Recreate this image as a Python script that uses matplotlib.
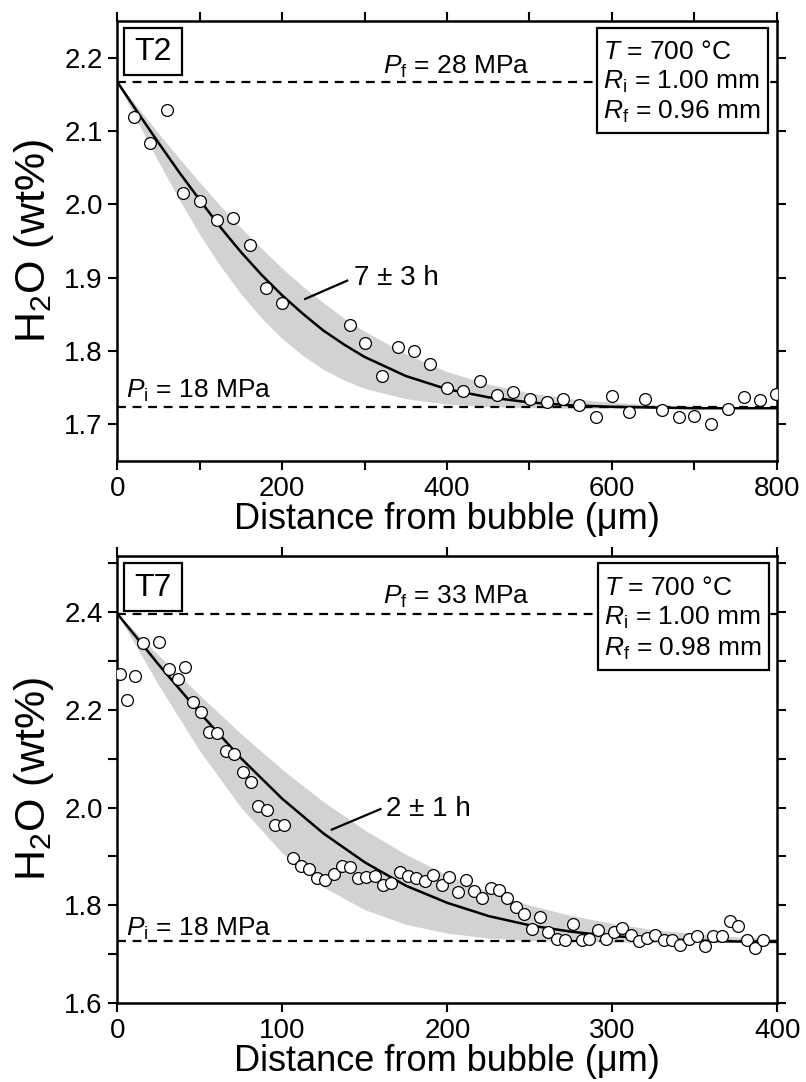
import matplotlib
matplotlib.use('Agg')
import matplotlib.pyplot as plt
from matplotlib.patches import Rectangle

plt.rcParams['font.family'] = ['Liberation Sans', 'DejaVu Sans']
plt.rcParams['mathtext.fontset'] = 'custom'
plt.rcParams['mathtext.rm'] = 'Liberation Sans'
plt.rcParams['mathtext.it'] = 'Liberation Sans:italic'

# --- T2 panel ---
t2_x = [19.8, 39.7, 60, 80, 100.4, 120.7, 140.9, 161, 180, 200, 282.5, 300.6, 321, 340.4,
        360.2, 380, 400.6, 420, 440.3, 460.5, 480.7, 501, 521, 540.6, 560.8, 580.7, 600.5,
        620.8, 640.6, 660.8, 681, 700.4, 720.7, 741, 761, 780, 799.6]
t2_y = [2.119, 2.083, 2.128, 2.016, 2.004, 1.979, 1.982, 1.945, 1.886, 1.865, 1.836, 1.811,
        1.766, 1.806, 1.800, 1.782, 1.750, 1.746, 1.759, 1.740, 1.744, 1.734, 1.730, 1.735,
        1.727, 1.710, 1.738, 1.717, 1.734, 1.719, 1.710, 1.711, 1.701, 1.721, 1.737, 1.733,
        1.741]
t2_fit_x = [0, 25, 50, 75, 100, 125, 150, 175, 200, 225, 250, 275, 300, 350, 400, 450, 500,
            550, 600, 650, 700, 800]
t2_fit = [2.167, 2.125, 2.084, 2.044, 2.006, 1.969, 1.935, 1.904, 1.876, 1.851, 1.828, 1.809,
          1.792, 1.766, 1.748, 1.737, 1.730, 1.726, 1.724, 1.723, 1.722, 1.722]
t2_hi = [2.167, 2.132, 2.097, 2.063, 2.030, 1.998, 1.968, 1.940, 1.913, 1.888, 1.866, 1.845,
         1.827, 1.796, 1.772, 1.755, 1.743, 1.735, 1.730, 1.7265, 1.7245, 1.7227]
t2_lo = [2.167, 2.112, 2.058, 2.007, 1.959, 1.916, 1.878, 1.845, 1.817, 1.794, 1.775, 1.7605,
         1.749, 1.735, 1.7276, 1.7243, 1.7228, 1.722, 1.722, 1.722, 1.722, 1.722]
t2_pf, t2_pi = 2.167, 1.724

# --- T7 panel ---
t7_x = [1.6, 5.7, 10.7, 15.8, 25.5, 31.6, 36.7, 41.1, 46.1, 50.8, 55.8, 60.7, 65.6, 70.8,
        76.1, 81.3, 85.4, 91.0, 95.6, 100.8, 106.2, 111.3, 116.4, 121.0, 126.0, 131.1, 136.2,
        141.2, 145.9, 151.0, 156.0, 161.1, 166.1, 171.2, 176.3, 181.3, 186.2, 191.4, 196.5,
        201.3, 206.4, 211.5, 216.1, 221.2, 226.2, 231.3, 236.4, 241.4, 246.5, 251.5, 256.2,
        261.2, 266.3, 271.3, 276.4, 281.5, 285.9, 291.4, 296.4, 301.0, 306.1, 311.2, 316.2,
        320.9, 326.0, 331.1, 336.1, 341.2, 346.2, 351.3, 356.1, 361.2, 366.2, 371.5, 376.3,
        381.4, 386.5, 391.5]
t7_y = [2.273, 2.220, 2.269, 2.336, 2.339, 2.283, 2.264, 2.288, 2.217, 2.196, 2.154, 2.152,
        2.116, 2.110, 2.072, 2.052, 2.003, 1.995, 1.965, 1.965, 1.897, 1.880, 1.875, 1.855,
        1.851, 1.865, 1.880, 1.878, 1.856, 1.858, 1.861, 1.842, 1.846, 1.868, 1.860, 1.856,
        1.849, 1.863, 1.841, 1.858, 1.827, 1.851, 1.829, 1.815, 1.836, 1.831, 1.815, 1.797,
        1.783, 1.752, 1.776, 1.746, 1.732, 1.729, 1.761, 1.729, 1.732, 1.750, 1.732, 1.746,
        1.754, 1.740, 1.727, 1.734, 1.739, 1.729, 1.730, 1.718, 1.732, 1.738, 1.716, 1.737,
        1.737, 1.768, 1.758, 1.729, 1.712, 1.729]
t7_fit_x = [0, 25, 50, 75, 100, 125, 150, 175, 200, 225, 250, 275, 300, 325, 350, 375, 400]
t7_fit = [2.397, 2.293, 2.194, 2.101, 2.018, 1.947, 1.888, 1.840, 1.805, 1.778, 1.759, 1.746,
          1.737, 1.732, 1.728, 1.726, 1.725]
t7_hi = [2.397, 2.312, 2.230, 2.151, 2.078, 2.012, 1.954, 1.904, 1.862, 1.828, 1.800, 1.779,
         1.763, 1.750, 1.742, 1.7355, 1.7314]
t7_lo = [2.397, 2.251, 2.116, 2.000, 1.907, 1.837, 1.791, 1.761, 1.743, 1.733, 1.728, 1.7257,
         1.7247, 1.724, 1.724, 1.724, 1.724]
t7_pf, t7_pi = 2.397, 1.726

t2_xticks = [0, 100, 200, 300, 400, 500, 600, 700, 800]
t2_xlabels = ['0', '', '200', '', '400', '', '600', '', '800']
t2_yticks = [1.7, 1.8, 1.9, 2.0, 2.1, 2.2]
t2_ylabels = ['1.7', '1.8', '1.9', '2.0', '2.1', '2.2']
t7_xticks = [0, 100, 200, 300, 400]
t7_xlabels = ['0', '100', '200', '300', '400']
t7_yticks = [1.6, 1.7, 1.8, 1.9, 2.0, 2.1, 2.2, 2.3, 2.4, 2.5]
t7_ylabels = ['1.6', '', '1.8', '', '2.0', '', '2.2', '', '2.4', '']

t2_info = ['$T$ = 700 \u00b0C', '$R_\\mathrm{i}$ = 1.00 mm', '$R_\\mathrm{f}$ = 0.96 mm']
t7_info = ['$T$ = 700 \u00b0C', '$R_\\mathrm{i}$ = 1.00 mm', '$R_\\mathrm{f}$ = 0.98 mm']

BAND = '#d2d2d2'
FS = 20
ANN = 19


def panel(ax, px, py, fx, fit, hi, lo, pf, pi, xlim, ylim, xt, xl, yt, yl):
    ax.fill_between(fx, lo, hi, color=BAND, lw=0, zorder=1)
    ax.axhline(pf, color='k', lw=1.6, ls=(0, (4, 3)), zorder=2)
    ax.axhline(pi, color='k', lw=1.6, ls=(0, (4, 3)), zorder=2)
    ax.plot(fx, fit, color='k', lw=1.8, zorder=3)
    ax.plot(px, py, 'o', ms=8.5, mfc='white', mec='k', mew=0.9, zorder=4)
    ax.set_xlim(*xlim)
    ax.set_ylim(*ylim)
    ax.set_xticks(xt)
    ax.set_xticklabels(xl)
    ax.set_yticks(yt)
    ax.set_yticklabels(yl)
    ax.tick_params(direction='out', length=6.5, width=1.5, labelsize=FS,
                   top=True, right=True, pad=4)
    for s in ax.spines.values():
        s.set_linewidth(1.8)
    ax.set_xlabel('Distance from bubble (\u03bcm)', fontsize=26, labelpad=0)
    ax.set_ylabel('H$_2$O (wt%)', fontsize=31, labelpad=6)


def boxes(ax, name, info):
    # sample name box, top left
    ax.add_patch(Rectangle((0.0105, 0.877), 0.088, 0.107, transform=ax.transAxes,
                           fc='white', ec='k', lw=1.6, zorder=5))
    ax.text(0.054, 0.929, name, transform=ax.transAxes, fontsize=23,
            ha='center', va='center', zorder=6)
    # run conditions box, top right
    ax.add_patch(Rectangle((0.728, 0.746), 0.259, 0.238, transform=ax.transAxes,
                           fc='white', ec='k', lw=1.6, zorder=5))
    for i, line in enumerate(info):
        ax.text(0.737, 0.929 - i * 0.068, line, transform=ax.transAxes, fontsize=ANN,
                ha='left', va='center', zorder=6)


fig = plt.figure(figsize=(8.06, 10.82), dpi=100)
ax1 = fig.add_axes([0.1455, 0.5739, 0.818, 0.4067])
ax2 = fig.add_axes([0.1455, 0.0730, 0.819, 0.4131])

panel(ax1, t2_x, t2_y, t2_fit_x, t2_fit, t2_hi, t2_lo, t2_pf, t2_pi, (0, 800), (1.65, 2.25),
      t2_xticks, t2_xlabels, t2_yticks, t2_ylabels)
panel(ax2, t7_x, t7_y, t7_fit_x, t7_fit, t7_hi, t7_lo, t7_pf, t7_pi, (0, 400), (1.6, 2.515),
      t7_xticks, t7_xlabels, t7_yticks, t7_ylabels)

boxes(ax1, 'T2', t2_info)
boxes(ax2, 'T7', t7_info)

# T2 annotations
ax1.text(322, 2.178, '$P_\\mathrm{f}$ = 28 MPa', fontsize=ANN, va='baseline')
ax1.text(11, 1.736, '$P_\\mathrm{i}$ = 18 MPa', fontsize=ANN, va='baseline')
ax1.text(287, 1.900, '7 \u00b1 3 h', fontsize=20, va='center')
ax1.plot([228, 279], [1.871, 1.896], color='k', lw=1.6)

# T7 annotations
ax2.text(161, 2.417, '$P_\\mathrm{f}$ = 33 MPa', fontsize=ANN, va='baseline')
ax2.text(5.3, 1.738, '$P_\\mathrm{i}$ = 18 MPa', fontsize=ANN, va='baseline')
ax2.text(163, 1.997, '2 \u00b1 1 h', fontsize=20, va='center')
ax2.plot([130, 159.5], [1.955, 1.997], color='k', lw=1.6)

fig.savefig('out.png', dpi=100)
